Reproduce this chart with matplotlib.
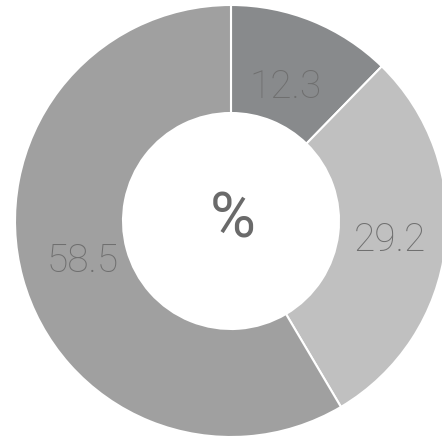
import matplotlib
matplotlib.use("Agg")
import matplotlib.pyplot as plt
import numpy as np

values = [12.3, 29.2, 58.5]
labels = ["12.3", "29.2", "58.5"]
colors = ["#888a8c", "#c0c0c0", "#a0a0a0"]
center_text = "%"

# layout constants (radial placement of labels, fraction of outer radius)
label_dist = [0.67, 0.74, 0.71]

W = 442
fig = plt.figure(figsize=(4.42, 4.42), dpi=100)
ax = fig.add_axes([0, 0, 1, 1])
R = 216.0
cx, cy = 231.0, 221.0

wedges, _ = ax.pie(values, colors=colors, startangle=90, counterclock=False,
                   radius=1.0,
                   wedgeprops=dict(width=0.5, edgecolor="white", linewidth=1.5))
for w, lab, d in zip(wedges, labels, label_dist):
    ang = np.deg2rad((w.theta1 + w.theta2) / 2)
    ax.text(d * np.cos(ang), d * np.sin(ang), lab, ha="center", va="center",
            color="#6f6f6f", fontsize=28, family="Roboto", fontweight="light")
ax.set_xlim(-cx / R, (W - cx) / R)
ax.set_ylim(-(W - cy) / R, cy / R)
ax.set_aspect("auto")
ax.axis("off")
ax.text(0.01, 0.0, center_text, ha="center", va="center", fontsize=45,
        color="#6a6a6a", family="Roboto")
fig.savefig("out.png", dpi=100)
